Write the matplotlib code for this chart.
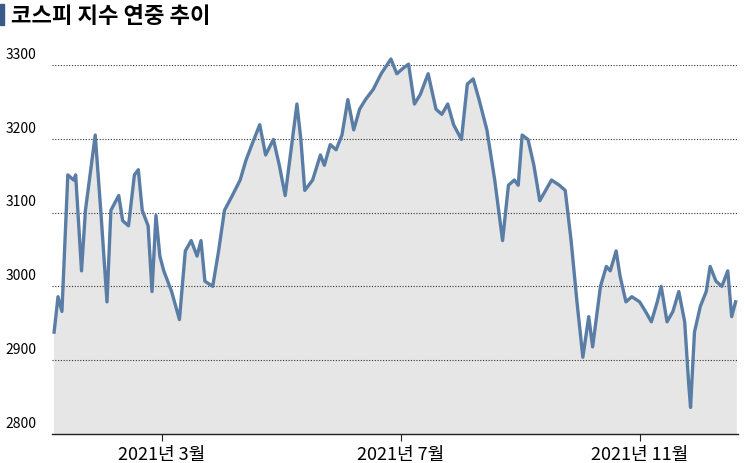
import matplotlib
matplotlib.use("Agg")
import matplotlib.pyplot as plt

plt.rcParams['font.family'] = ['Noto Sans CJK KR', 'DejaVu Sans']

days = [4,6,8,11,14,15,18,20,23,25,28,31,33,37,39,42,45,47,49,52,54,56,58,60,64,68,71,74,77,79,81,85,88,91,95,99,102,105,109,112,116,119,122,125,128,130,132,136,140,142,145,148,151,154,157,160,163,167,171,176,179,182,185,188,191,195,199,202,205,208,212,215,218,221,225,229,233,236,239,241,243,246,249,252,255,258,262,265,268,271,274,277,279,283,286,288,291,293,296,299,303,306,309,312,314,317,320,323,326,328,329,331,334,337,339,342,345,348,350,352]
values = [2938,2986,2966,3151,3144,3151,3021,3103,3164,3205,3096,2979,3103,3123,3089,3082,3151,3158,3103,3082,2993,3096,3041,3021,2993,2955,3048,3062,3041,3062,3007,3000,3048,3103,3123,3144,3171,3192,3219,3178,3199,3164,3123,3185,3247,3199,3130,3144,3178,3164,3192,3185,3205,3253,3212,3240,3253,3267,3288,3308,3288,3295,3301,3247,3260,3288,3240,3233,3247,3219,3199,3274,3281,3253,3212,3144,3062,3137,3144,3137,3205,3199,3164,3116,3130,3144,3137,3130,3062,2979,2904,2959,2918,3000,3027,3021,3048,3014,2979,2986,2979,2966,2952,2979,3000,2952,2966,2993,2952,2870,2836,2938,2973,2993,3027,3007,3000,3021,2959,2979]

tick_days = [59, 181, 303]
tick_labels = ['2021년 3월', '2021년 7월', '2021년 11월']
ygrid = [2900, 3000, 3100, 3200, 3300]

fig = plt.figure(figsize=(7.45, 4.64), dpi=100)
ax = fig.add_axes([0.07, 0.0625, 0.92, 0.7955])
ax.set_xlim(3, 353)
ax.set_ylim(2800, 3300)
ax.fill_between(days, values, 2800, color='#e6e6e6', zorder=1, clip_on=False)
ax.plot(days, values, color='#5a7da6', lw=2.4, zorder=3, clip_on=False)
for g in ygrid:
    ax.axhline(g, color='#333333', lw=0.8, ls=(0, (1, 1.5)), zorder=2)
for s in ['top', 'right', 'left']:
    ax.spines[s].set_visible(False)
ax.spines['bottom'].set_color('#222222')
ax.spines['bottom'].set_linewidth(1.0)
ax.set_yticks([])
ax.set_xticks(tick_days)
ax.set_xticklabels(tick_labels, fontsize=13)
ax.tick_params(axis='x', length=5, color='#222222', pad=3)
for v in [2800] + ygrid:
    ax.annotate(str(v), xy=(0, v), xycoords=('figure fraction', 'data'),
                xytext=(4, 3), textcoords='offset points', fontsize=10,
                va='bottom', ha='left', annotation_clip=False)
fig.patches.append(plt.Rectangle((0.0, 0.945), 0.005, 0.045, transform=fig.transFigure,
                                 color='#3b5a8a'))
fig.text(0.015, 0.965, '코스피 지수 연중 추이', fontsize=16, fontweight='bold', va='center')
fig.savefig('out.png', dpi=100)
